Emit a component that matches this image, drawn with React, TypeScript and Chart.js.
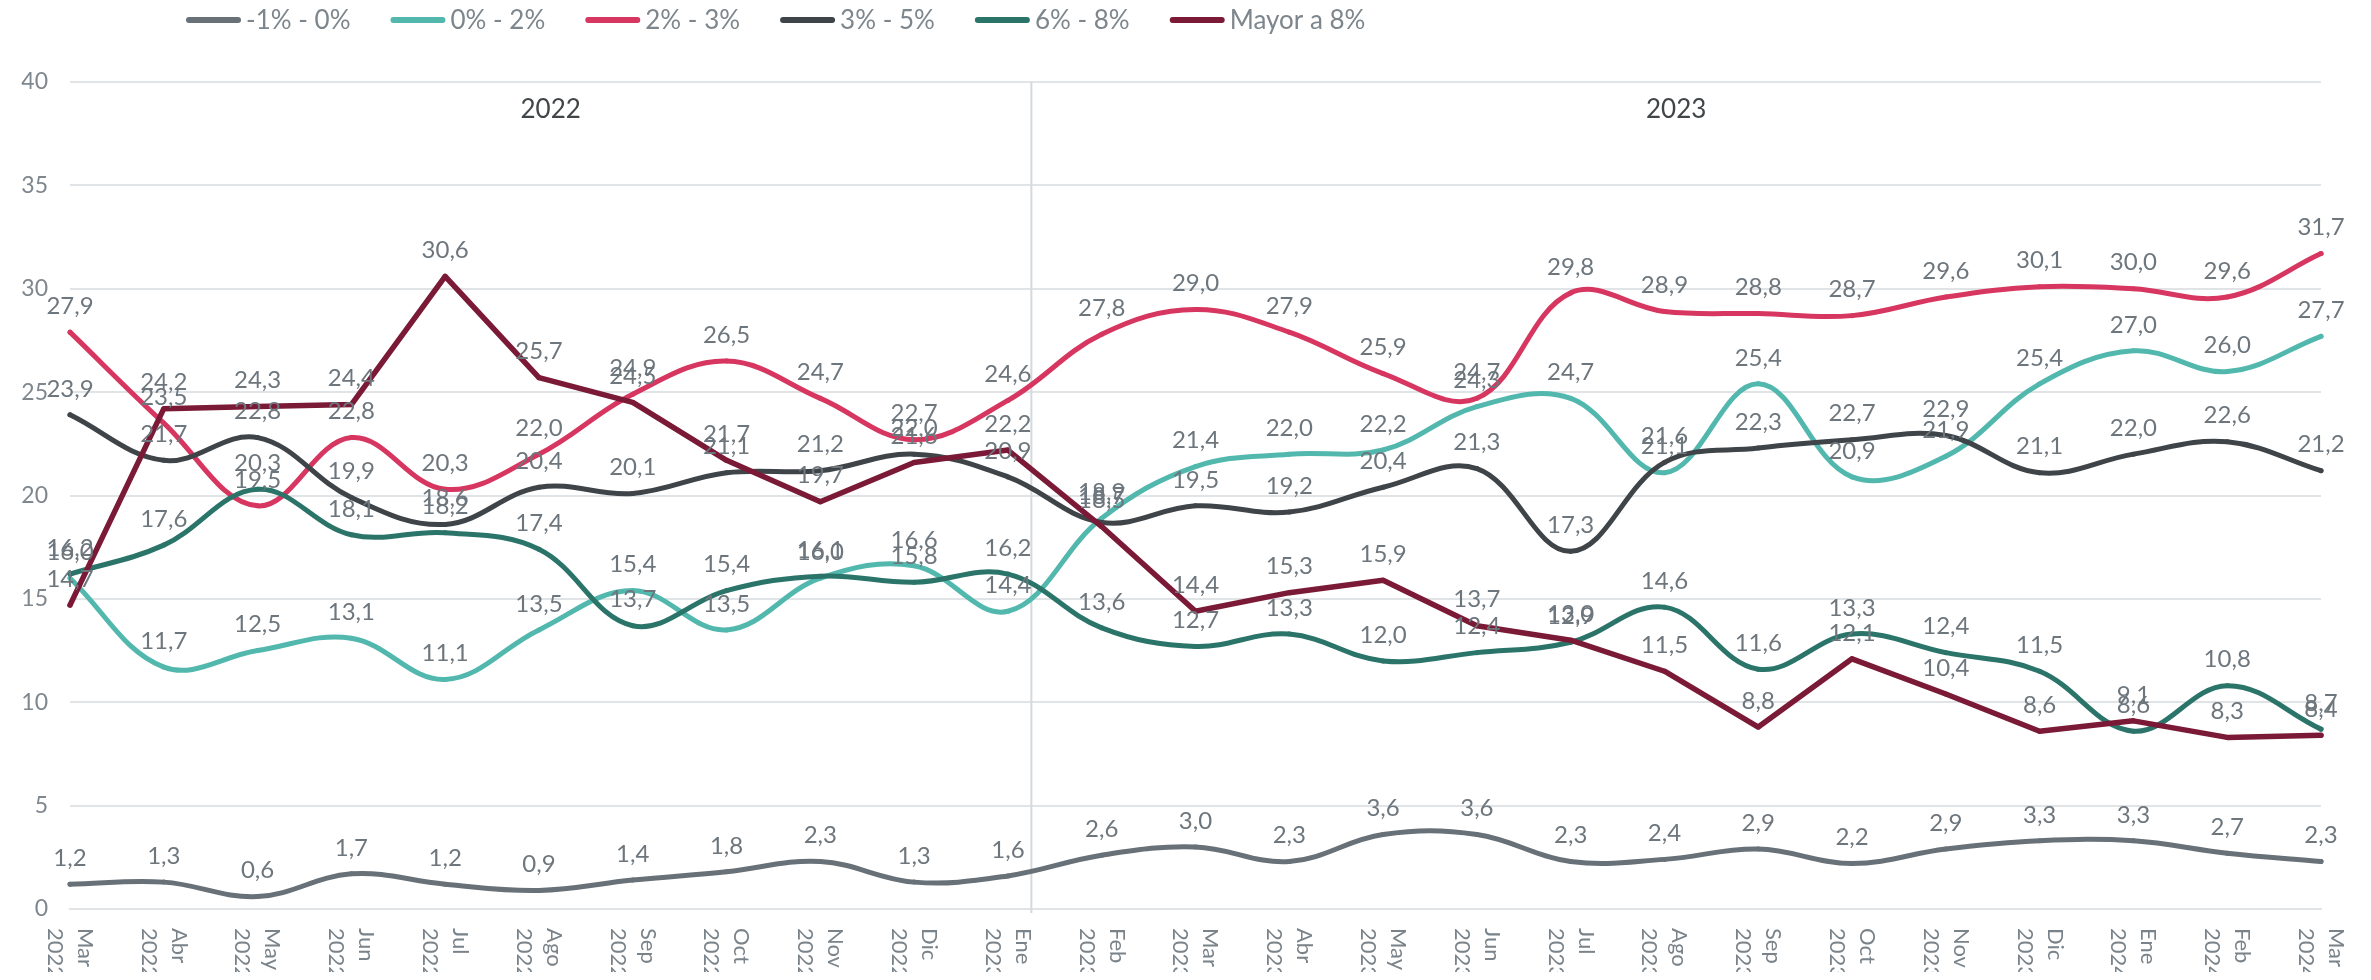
import React, { useEffect, useRef } from "react";
import { Chart, registerables } from "chart.js";

Chart.register(...registerables);

// ---------- data ----------
const MONTHS = ["Mar", "Abr", "May", "Jun", "Jul", "Ago", "Sep", "Oct", "Nov", "Dic", "Ene", "Feb", "Mar", "Abr", "May", "Jun", "Jul", "Ago", "Sep", "Oct", "Nov", "Dic", "Ene", "Feb", "Mar"];
const YEARS = ["2022", "2022", "2022", "2022", "2022", "2022", "2022", "2022", "2022", "2022", "2023", "2023", "2023", "2023", "2023", "2023", "2023", "2023", "2023", "2023", "2023", "2023", "2024", "2024", "2024"];

const SERIES_NAMES = ["-1% - 0%", "0% - 2%", "2% - 3%", "3% - 5%", "6% - 8%", "Mayor a 8%"];

const NEG1_TO_0 = [1.2, 1.3, 0.6, 1.7, 1.2, 0.9, 1.4, 1.8, 2.3, 1.3, 1.6, 2.6, 3.0, 2.3, 3.6, 3.6, 2.3, 2.4, 2.9, 2.2, 2.9, 3.3, 3.3, 2.7, 2.3];
const ZERO_TO_2 = [16.0, 11.7, 12.5, 13.1, 11.1, 13.5, 15.4, 13.5, 16.0, 16.6, 14.4, 18.9, 21.4, 22.0, 22.2, 24.3, 24.7, 21.1, 25.4, 20.9, 21.9, 25.4, 27.0, 26.0, 27.7];
const TWO_TO_3 = [27.9, 23.5, 19.5, 22.8, 20.3, 22.0, 24.9, 26.5, 24.7, 22.7, 24.6, 27.8, 29.0, 27.9, 25.9, 24.7, 29.8, 28.9, 28.8, 28.7, 29.6, 30.1, 30.0, 29.6, 31.7];
const THREE_TO_5 = [23.9, 21.7, 22.8, 19.9, 18.6, 20.4, 20.1, 21.1, 21.2, 22.0, 20.9, 18.7, 19.5, 19.2, 20.4, 21.3, 17.3, 21.6, 22.3, 22.7, 22.9, 21.1, 22.0, 22.6, 21.2];
const SIX_TO_8 = [16.2, 17.6, 20.3, 18.1, 18.2, 17.4, 13.7, 15.4, 16.1, 15.8, 16.2, 13.6, 12.7, 13.3, 12.0, 12.4, 12.9, 14.6, 11.6, 13.3, 12.4, 11.5, 8.6, 10.8, 8.7];
const OVER_8 = [14.7, 24.2, 24.3, 24.4, 30.6, 25.7, 24.5, 21.7, 19.7, 21.6, 22.2, 18.5, 14.4, 15.3, 15.9, 13.7, 13.0, 11.5, 8.8, 12.1, 10.4, 8.6, 9.1, 8.3, 8.4];

const SERIES_VALUES = [NEG1_TO_0, ZERO_TO_2, TWO_TO_3, THREE_TO_5, SIX_TO_8, OVER_8];
const SERIES_COLORS = ["#687178", "#52b8ae", "#d6365f", "#3f4449", "#2b7469", "#7b1a36"];
const SERIES_SMOOTH = [true, true, true, true, true, false];

const SECTION_LABELS = ["2022", "2023"];
const SECTION_SPLIT_INDEX = 10; // separator sits just after "Ene 2023"
const SECTION_SPLIT_FRACTION = 0.25;

const Y_MIN = 0;
const Y_MAX = 40;
const Y_STEP = 5;

const FONT = "Lato, 'Noto Sans', sans-serif";
const LABEL_GRAY = "#6d767d";
const TICK_GRAY = "#7f878e";

const fmt = (v: number) => v.toFixed(1).replace(".", ",");

const overlayPlugin = {
  id: "overlay",
  beforeDatasetsDraw(chart: any) {
    const { ctx, chartArea, scales } = chart;
    const x = scales.x;
    const x0 = x.getPixelForValue(SECTION_SPLIT_INDEX);
    const x1 = x.getPixelForValue(SECTION_SPLIT_INDEX + 1);
    const sx = x0 + (x1 - x0) * SECTION_SPLIT_FRACTION;
    ctx.save();
    ctx.strokeStyle = "#d5d9dc";
    ctx.lineWidth = 2;
    ctx.beginPath();
    ctx.moveTo(sx, chartArea.top);
    ctx.lineTo(sx, chartArea.bottom + 4);
    ctx.stroke();
    ctx.font = `26px ${FONT}`;
    ctx.fillStyle = "#404548";
    ctx.textAlign = "center";
    ctx.textBaseline = "middle";
    ctx.fillText(SECTION_LABELS[0], (chartArea.left + sx) / 2, chartArea.top + 28);
    ctx.fillText(SECTION_LABELS[1], (sx + chartArea.right) / 2, chartArea.top + 28);
    ctx.restore();
  },
  afterDatasetsDraw(chart: any) {
    const { ctx } = chart;
    ctx.save();
    ctx.font = `24px ${FONT}`;
    ctx.fillStyle = LABEL_GRAY;
    ctx.textAlign = "center";
    ctx.textBaseline = "middle";
    chart.data.datasets.forEach((ds: any, di: number) => {
      const meta = chart.getDatasetMeta(di);
      meta.data.forEach((pt: any, i: number) => {
        ctx.fillText(fmt(ds.data[i]), pt.x, pt.y - 26);
      });
    });
    ctx.restore();
  },
  afterDraw(chart: any) {
    const { ctx, chartArea, scales } = chart;
    const x = scales.x;
    // x tick labels, rotated clockwise
    ctx.save();
    ctx.font = `22px ${FONT}`;
    ctx.fillStyle = "#7a838a";
    ctx.textAlign = "left";
    ctx.textBaseline = "middle";
    MONTHS.forEach((m, i) => {
      const px = x.getPixelForValue(i);
      ctx.save();
      ctx.translate(px, chartArea.bottom + 19);
      ctx.rotate(Math.PI / 2);
      ctx.fillText(m, 0, -15);
      ctx.fillText(YEARS[i], 0, 15);
      ctx.restore();
    });
    ctx.restore();

    // legend
    ctx.save();
    ctx.font = `26px ${FONT}`;
    ctx.textAlign = "left";
    ctx.textBaseline = "middle";
    let lx = 178;
    const ly = 12;
    chart.data.datasets.forEach((ds: any) => {
      ctx.strokeStyle = ds.borderColor;
      ctx.lineWidth = 6;
      ctx.lineCap = "round";
      ctx.beginPath();
      ctx.moveTo(lx + 3, ly);
      ctx.lineTo(lx + 52, ly);
      ctx.stroke();
      ctx.fillStyle = ds.borderColor;
      ctx.beginPath();
      ctx.arc(lx + 27.5, ly, 2.5, 0, Math.PI * 2);
      ctx.fill();
      ctx.fillStyle = "#7d868c";
      ctx.fillText(ds.label, lx + 60, ly + 1);
      lx += 60 + ctx.measureText(ds.label).width + 40;
    });
    ctx.restore();
  },
};

export default function App() {
  const ref = useRef<HTMLCanvasElement | null>(null);

  useEffect(() => {
    if (!ref.current) return;
    const labels = MONTHS.map((m, i) => `${m} ${YEARS[i]}`);
    const datasets = SERIES_NAMES.map((name, i) => ({
      label: name,
      data: SERIES_VALUES[i],
      borderColor: SERIES_COLORS[i],
      backgroundColor: SERIES_COLORS[i],
      borderWidth: i === 5 ? 5.5 : 5,
      tension: SERIES_SMOOTH[i] ? 0.38 : 0,
      pointRadius: 2.5,
      pointBorderWidth: 0,
      pointBackgroundColor: SERIES_COLORS[i],
      borderCapStyle: "round" as const,
      borderJoinStyle: "round" as const,
      fill: false,
      order: SERIES_NAMES.length - i,
    }));

    const chart = new Chart(ref.current, {
      type: "line",
      data: { labels, datasets },
      options: {
        responsive: false,
        animation: false,
        layout: { padding: { top: 74, right: 42, bottom: 0, left: 0 } },
        plugins: {
          legend: { display: false },
          tooltip: { enabled: false },
        },
        scales: {
          x: {
            type: "category",
            offset: false,
            grid: { display: false },
            ticks: { display: false },
            border: { display: true, color: "#e1e4e7", width: 2 },
            afterFit(s: any) { s.height = 71; },
          },
          y: {
            min: Y_MIN,
            max: Y_MAX,
            ticks: {
              stepSize: Y_STEP,
              padding: 22,
              color: TICK_GRAY,
              font: { family: FONT, size: 23 },
            },
            grid: { color: "#e1e4e7", lineWidth: 2, drawTicks: false },
            border: { display: false },
            afterFit(s: any) { s.width = 62; },
          },
        },
      },
      plugins: [overlayPlugin],
    });
    return () => chart.destroy();
  }, []);

  return (
    <div style={{ width: 2355, height: 964, overflow: "visible" }}>
      <canvas ref={ref} width={2355} height={972} style={{ display: "block" }} />
    </div>
  );
}
